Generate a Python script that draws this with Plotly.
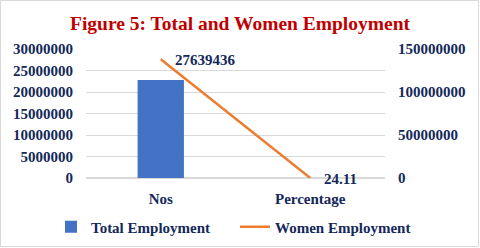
import plotly.graph_objects as go

categories = ["Nos", "Percentage"]
total_employment = [22800000, None]
women_employment = [27639436, 24.11]
left_ticks = [0, 5000000, 10000000, 15000000, 20000000, 25000000, 30000000]
right_ticks = [0, 50000000, 100000000, 150000000]

W, H = 480, 248
ML, MR, MT, MB = 86, 95, 49, 70
PW, PH = W - ML - MR, H - MT - MB

NAVY = "#14285a"
FONT = "Liberation Serif"

fig = go.Figure()
fig.add_trace(go.Bar(
    x=categories, y=total_employment, name="<b>Total Employment</b>",
    marker=dict(color="#4472C4", line=dict(width=0)), width=0.31,
    legend="legend",
))
fig.add_trace(go.Scatter(
    x=categories, y=women_employment, name="<b>Women Employment</b>",
    mode="lines", line=dict(color="#ED7D31", width=2.5),
    cliponaxis=False, legend="legend2",
))
# invisible trace for the secondary axis
fig.add_trace(go.Scatter(
    x=categories, y=[0, 0], yaxis="y2", mode="lines",
    line=dict(width=0), showlegend=False, hoverinfo="skip",
))

# data labels for the line
for c, v in zip(categories, women_employment):
    fig.add_annotation(x=c, y=v, xref="x", yref="y", text=f"<b>{v}</b>",
                       showarrow=False, xanchor="left", yanchor="middle",
                       xshift=12, yshift=-1,
                       font=dict(family=FONT, size=15, color=NAVY))

legend_common = dict(orientation="h", xref="container", yref="container",
                     xanchor="left", y=1 - 227 / H, yanchor="middle",
                     font=dict(family=FONT, size=15, color=NAVY),
                     itemwidth=30, bgcolor="rgba(0,0,0,0)")

fig.update_layout(
    width=W, height=H,
    margin=dict(l=ML, r=MR, t=MT, b=MB, autoexpand=False),
    paper_bgcolor="white", plot_bgcolor="white",
    font=dict(family=FONT, size=15, color=NAVY),
    title=dict(text="<b>Figure 5: Total and Women Employment</b>",
               x=0.5, xanchor="center", y=1 - 23 / H, yanchor="middle",
               font=dict(family=FONT, size=19.5, color="#C00000")),
    showlegend=True,
    legend=dict(x=(96 - 45) / W, **legend_common),
    legend2=dict(x=(280 - 45) / W, **legend_common),
    bargap=0.69,
    xaxis=dict(showgrid=False, showline=False, zeroline=False,
               tickvals=categories, ticktext=[f"<b>{c}</b>" for c in categories],
               tickfont=dict(family=FONT, size=15, color=NAVY),
               ticks="", ticklabelstandoff=10),
    yaxis=dict(range=[0, 30000000], tickvals=left_ticks,
               ticktext=[f"<b>{v}</b>" for v in left_ticks],
               showgrid=True, gridcolor="#d9d9d9", gridwidth=1,
               zeroline=True, zerolinecolor="#d9d9d9", showline=False,
               tickfont=dict(family=FONT, size=15, color=NAVY),
               ticklabelstandoff=12),
    yaxis2=dict(range=[0, 150000000], tickvals=right_ticks,
                ticktext=[f"<b>{v}</b>" for v in right_ticks],
                overlaying="y", side="right", showgrid=False,
                zeroline=False, showline=False,
                tickfont=dict(family=FONT, size=15, color=NAVY),
                ticklabelstandoff=12),
)

# outer border
fig.add_shape(type="rect", xref="paper", yref="paper",
              x0=-(ML - 0.5) / PW, x1=1 + (MR - 1.5) / PW,
              y0=-(MB - 1.5) / PH, y1=1 + (MT - 0.5) / PH,
              line=dict(color="#d9d9d9", width=1), layer="below")

fig.write_html("out.html")
